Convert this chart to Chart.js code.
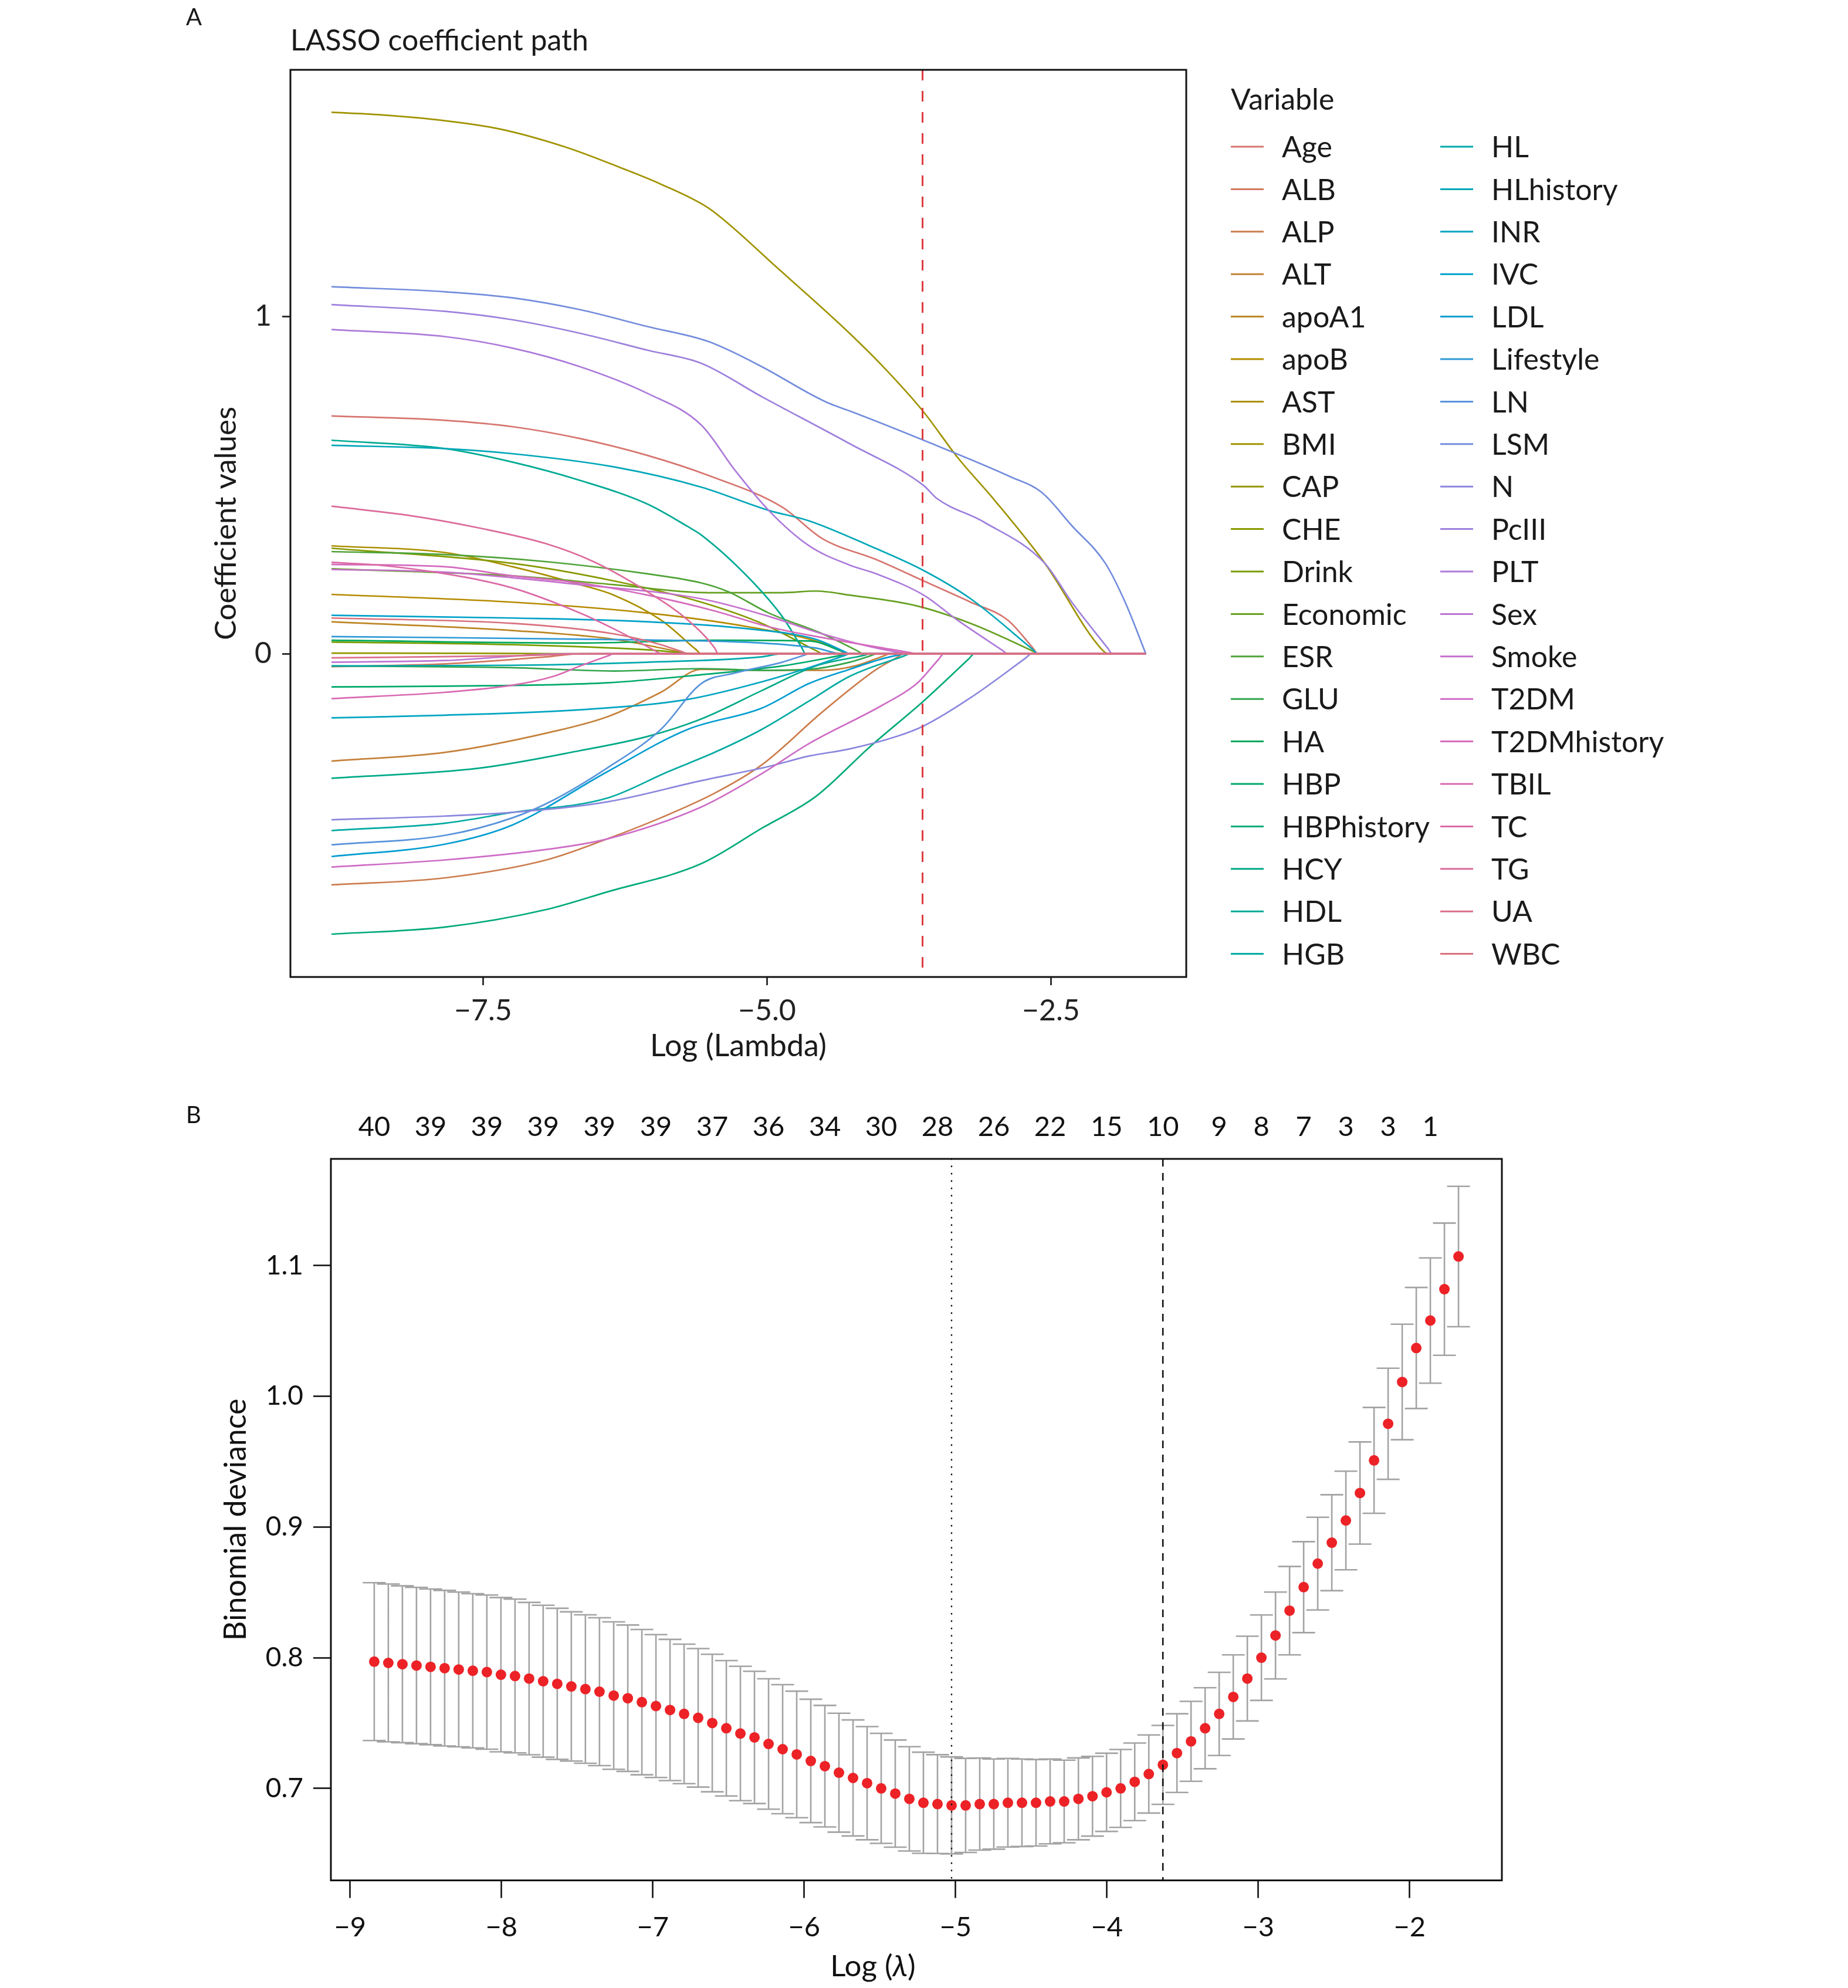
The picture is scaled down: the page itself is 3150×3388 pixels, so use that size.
<!DOCTYPE html>
<html lang="en">
<head>
<meta charset="UTF-8">
<title>LASSO coefficient path and cross-validation</title>
<script src="https://cdn.jsdelivr.net/npm/chart.js"></script>
<style>
  html, body { margin: 0; padding: 0; background: #ffffff; }
  body { width: 3150px; height: 3388px; position: relative; overflow: hidden; }
  #pathChart { position: absolute; left: 0; top: 0; }
  #cvChart { position: absolute; left: 0; top: 1820px; }
</style>
</head>
<body>
<canvas id="pathChart" width="3150" height="1820"></canvas>
<canvas id="cvChart" width="3150" height="1568"></canvas>
<script>
// ---------- Panel A: coefficient paths, [log(lambda), coefficient] ----------
const variables = ['Age', 'ALB', 'ALP', 'ALT', 'apoA1', 'apoB', 'AST', 'BMI', 'CAP', 'CHE',
  'Drink', 'Economic', 'ESR', 'GLU', 'HA', 'HBP', 'HBPhistory', 'HCY', 'HDL', 'HGB',
  'HL', 'HLhistory', 'INR', 'IVC', 'LDL', 'Lifestyle', 'LN', 'LSM', 'N', 'PcIII',
  'PLT', 'Sex', 'Smoke', 'T2DM', 'T2DMhistory', 'TBIL', 'TC', 'TG', 'UA', 'WBC'];

const pathAge = [[-8.835, 0.705], [-7.832, 0.692], [-7.239, 0.673], [-6.646, 0.638], [-6.053, 0.588], [-5.519, 0.529], [-4.867, 0.435], [-4.511, 0.341], [-4.036, 0.279], [-3.621, 0.216], [-3.206, 0.153], [-2.88, 0.10], [-2.66, 0.018], [-2.613, 0], [-1.664, 0]];
const pathALB = [[-8.835, -0.038], [-7.832, -0.03], [-6.942, -0.009], [-6.646, 0], [-1.664, 0]];
const pathALP = [[-8.835, -0.685], [-7.832, -0.664], [-6.942, -0.611], [-6.409, -0.549], [-5.934, -0.486], [-5.46, -0.413], [-5.045, -0.329], [-4.511, -0.172], [-4.036, -0.046], [-3.85, -0.01], [-3.799, 0], [-1.664, 0]];
const pathALT = [[-8.835, -0.318], [-7.832, -0.292], [-6.942, -0.235], [-6.409, -0.187], [-5.934, -0.114], [-5.578, -0.046], [-5.045, -0.049], [-4.511, -0.049], [-4.214, -0.035], [-3.97, -0.006], [-3.918, 0], [-1.664, 0]];
const pathApoA1 = [[-8.835, 0.095], [-7.239, 0.069], [-6.349, 0.043], [-5.75, 0.004], [-5.697, 0], [-1.664, 0]];
const pathApoB = [[-8.835, 0.176], [-7.239, 0.153], [-6.053, 0.121], [-5.163, 0.08], [-4.57, 0.038], [-4.32, 0.006], [-4.273, 0], [-1.664, 0]];
const pathAST = [[-8.835, 0.32], [-7.832, 0.30], [-7.239, 0.258], [-6.646, 0.205], [-6.349, 0.174], [-5.934, 0.10], [-5.63, 0.014], [-5.578, 0], [-1.664, 0]];
const pathBMI = [[-8.835, 1.605], [-8.425, 1.598], [-7.832, 1.58], [-7.358, 1.556], [-6.765, 1.501], [-6.29, 1.441], [-5.934, 1.392], [-5.519, 1.322], [-5.282, 1.258], [-4.926, 1.149], [-4.629, 1.06], [-4.273, 0.95], [-3.977, 0.851], [-3.621, 0.717], [-3.324, 0.583], [-2.998, 0.456], [-2.553, 0.268], [-2.049, 0.012], [-1.99, 0], [-1.664, 0]];
const pathCAP = [[-8.835, 0.002], [-7.239, 0.001], [-6.646, 0], [-1.664, 0]];
const pathCHE = [[-8.835, 0.313], [-7.239, 0.268], [-6.349, 0.216], [-5.578, 0.153], [-5.045, 0.09], [-4.56, 0.008], [-4.511, 0], [-1.664, 0]];
const pathDrink = [[-8.835, 0.035], [-7.239, 0.027], [-6.053, 0.012], [-5.578, 0], [-1.664, 0]];
const pathEconomic = [[-8.835, 0.252], [-7.239, 0.231], [-6.349, 0.205], [-5.519, 0.181], [-4.867, 0.181], [-4.57, 0.186], [-4.273, 0.174], [-3.68, 0.142], [-3.206, 0.09], [-2.66, 0.008], [-2.613, 0], [-1.664, 0]];
const pathESR = [[-8.835, 0.303], [-7.832, 0.294], [-6.942, 0.273], [-6.053, 0.237], [-5.578, 0.21], [-5.341, 0.184], [-4.985, 0.121], [-4.511, 0.059], [-4.2, 0.008], [-4.155, 0], [-1.664, 0]];
const pathGLU = [[-8.835, -0.036], [-7.239, -0.041], [-6.349, -0.051], [-5.578, -0.044], [-5.045, -0.049], [-4.629, -0.046], [-4.273, -0.025], [-4.08, -0.005], [-4.036, 0], [-1.664, 0]];
const pathHA = [[-8.835, 0.04], [-6.646, 0.032], [-5.46, 0.04], [-4.629, 0.038], [-4.32, 0.005], [-4.273, 0], [-1.664, 0]];
const pathHBP = [[-8.835, -0.098], [-7.832, -0.096], [-6.409, -0.086], [-5.578, -0.062], [-4.867, -0.036], [-4.32, -0.003], [-4.273, 0], [-1.664, 0]];
const pathHBPhistory = [[-8.835, -0.831], [-7.832, -0.81], [-6.942, -0.758], [-6.409, -0.706], [-5.578, -0.622], [-5.045, -0.517], [-4.57, -0.423], [-4.095, -0.276], [-3.621, -0.14], [-3.22, -0.014], [-3.176, 0], [-1.664, 0]];
const pathHCY = [[-8.835, -0.369], [-7.536, -0.339], [-6.646, -0.287], [-6.053, -0.245], [-5.578, -0.193], [-5.045, -0.109], [-4.57, -0.036], [-4.14, -0.004], [-4.095, 0], [-1.664, 0]];
const pathHDL = [[-8.835, 0.633], [-7.832, 0.608], [-7.239, 0.568], [-6.646, 0.514], [-6.053, 0.444], [-5.697, 0.377], [-5.578, 0.352], [-5.163, 0.226], [-4.867, 0.111], [-4.70, 0.022], [-4.659, 0], [-1.664, 0]];
const pathHGB = [[-8.835, -0.524], [-7.832, -0.502], [-7.239, -0.47], [-6.409, -0.428], [-5.875, -0.35], [-5.46, -0.292], [-5.045, -0.224], [-4.629, -0.14], [-4.273, -0.067], [-3.79, -0.006], [-3.74, 0], [-1.664, 0]];
const pathHL = [[-8.835, -0.036], [-7.239, -0.034], [-6.053, -0.025], [-5.045, -0.009], [-4.867, 0], [-1.664, 0]];
const pathHLhistory = [[-8.835, 0.618], [-7.832, 0.608], [-7.239, 0.593], [-6.349, 0.554], [-5.578, 0.494], [-4.985, 0.425], [-4.629, 0.394], [-4.095, 0.32], [-3.621, 0.247], [-3.206, 0.163], [-2.66, 0.013], [-2.613, 0], [-1.664, 0]];
const pathINR = [[-8.835, -0.19], [-7.832, -0.182], [-6.646, -0.166], [-5.697, -0.135], [-5.045, -0.083], [-4.629, -0.041], [-4.32, -0.0055], [-4.273, 0], [-1.664, 0]];
const pathIVC = [[-8.835, 0.114], [-7.239, 0.106], [-6.053, 0.095], [-5.163, 0.074], [-4.57, 0.043], [-4.32, 0.007], [-4.273, 0], [-1.664, 0]];
const pathLDL = [[-8.835, -0.601], [-7.832, -0.564], [-7.239, -0.507], [-6.409, -0.35], [-5.697, -0.224], [-5.045, -0.161], [-4.629, -0.088], [-4.273, -0.046], [-3.918, -0.009], [-3.74, 0], [-1.664, 0]];
const pathLifestyle = [[-8.835, 0.051], [-6.053, 0.041], [-5.045, 0.032], [-4.57, 0.017], [-4.333, 0], [-1.664, 0]];
const pathLN = [[-8.835, -0.566], [-7.832, -0.538], [-7.239, -0.486], [-6.883, -0.434], [-6.409, -0.339], [-5.934, -0.224], [-5.578, -0.088], [-5.282, -0.057], [-4.867, -0.025], [-4.67, -0.004], [-4.629, 0], [-1.664, 0]];
const pathLSM = [[-8.835, 1.088], [-7.832, 1.073], [-7.239, 1.055], [-6.646, 1.02], [-6.053, 0.97], [-5.519, 0.926], [-5.045, 0.851], [-4.629, 0.772], [-4.451, 0.742], [-4.273, 0.72], [-3.621, 0.633], [-2.85, 0.524], [-2.583, 0.479], [-2.316, 0.38], [-2.02, 0.268], [-1.842, 0.15], [-1.664, 0]];
const pathN = [[-8.835, -0.492], [-7.832, -0.481], [-7.239, -0.47], [-6.409, -0.439], [-5.578, -0.376], [-4.985, -0.334], [-4.629, -0.303], [-4.273, -0.282], [-3.858, -0.245], [-3.621, -0.214], [-3.206, -0.13], [-2.72, -0.012], [-2.672, 0], [-1.664, 0]];
const pathPcIII = [[-8.835, 1.035], [-7.832, 1.015], [-7.239, 0.99], [-6.646, 0.95], [-6.053, 0.90], [-5.578, 0.861], [-5.045, 0.762], [-4.273, 0.623], [-3.621, 0.499], [-3.502, 0.46], [-3.087, 0.39], [-2.553, 0.268], [-2.316, 0.153], [-2.0, 0.017], [-1.96, 0], [-1.664, 0]];
const pathPLT = [[-8.835, 0.961], [-7.832, 0.94], [-7.239, 0.906], [-6.646, 0.851], [-6.053, 0.772], [-5.578, 0.678], [-5.282, 0.544], [-4.985, 0.425], [-4.629, 0.32], [-4.273, 0.263], [-4.036, 0.237], [-3.621, 0.174], [-3.324, 0.10], [-2.93, 0.011], [-2.88, 0], [-1.664, 0]];
const pathSex = [[-8.835, -0.025], [-7.832, -0.02], [-6.765, 0], [-1.664, 0]];
const pathSmoke = [[-8.835, 0.25], [-7.832, 0.242], [-6.646, 0.205], [-5.578, 0.163], [-4.985, 0.111], [-4.511, 0.059], [-4.036, 0.017], [-3.68, 0], [-1.664, 0]];
const pathT2DM = [[-8.835, -0.632], [-7.832, -0.611], [-6.942, -0.58], [-6.409, -0.549], [-5.578, -0.454], [-5.045, -0.355], [-4.629, -0.266], [-3.977, -0.151], [-3.68, -0.088], [-3.49, -0.017], [-3.443, 0], [-1.664, 0]];
const pathT2DMhistory = [[-8.835, 0.265], [-7.832, 0.258], [-7.239, 0.231], [-6.646, 0.21], [-6.053, 0.174], [-5.46, 0.127], [-4.985, 0.08], [-4.511, 0.048], [-3.73, 0.003], [-3.68, 0], [-1.664, 0]];
const pathTBIL = [[-8.835, -0.133], [-7.832, -0.114], [-7.239, -0.093], [-6.883, -0.067], [-6.646, -0.036], [-6.40, -0.006], [-6.349, 0], [-1.664, 0]];
const pathTC = [[-8.835, 0.271], [-8.425, 0.263], [-7.832, 0.237], [-7.239, 0.195], [-6.646, 0.121], [-6.349, 0.074], [-5.98, 0.008], [-5.934, 0], [-1.664, 0]];
const pathTG = [[-8.835, 0.4375], [-8.129, 0.409], [-7.536, 0.373], [-6.942, 0.326], [-6.527, 0.273], [-6.053, 0.184], [-5.697, 0.10], [-5.46, 0.017], [-5.43, 0], [-1.664, 0]];
const pathUA = [[-8.835, -0.012], [-7.239, -0.006], [-6.527, 0], [-1.664, 0]];
const pathWBC = [[-8.835, 0.106], [-7.239, 0.09], [-6.349, 0.059], [-5.934, 0.027], [-5.74, 0.005], [-5.697, 0], [-1.664, 0]];

const coefPaths = [pathAge, pathALB, pathALP, pathALT, pathApoA1, pathApoB, pathAST, pathBMI, pathCAP, pathCHE,
  pathDrink, pathEconomic, pathESR, pathGLU, pathHA, pathHBP, pathHBPhistory, pathHCY, pathHDL, pathHGB,
  pathHL, pathHLhistory, pathINR, pathIVC, pathLDL, pathLifestyle, pathLN, pathLSM, pathN, pathPcIII,
  pathPLT, pathSex, pathSmoke, pathT2DM, pathT2DMhistory, pathTBIL, pathTC, pathTG, pathUA, pathWBC];

const xTicksA = [-7.5, -5.0, -2.5];
const yTicksA = [0, 1];

// ---------- Panel B: 10-fold CV binomial deviance ----------
const logLambda = [-8.840, -8.747, -8.654, -8.561, -8.468, -8.375, -8.282, -8.189, -8.096, -8.003,
  -7.910, -7.817, -7.724, -7.631, -7.538, -7.445, -7.352, -7.258, -7.165, -7.072,
  -6.979, -6.886, -6.793, -6.700, -6.607, -6.514, -6.421, -6.328, -6.235, -6.142,
  -6.049, -5.956, -5.863, -5.770, -5.677, -5.584, -5.491, -5.398, -5.305, -5.212,
  -5.119, -5.026, -4.933, -4.840, -4.747, -4.654, -4.561, -4.468, -4.375, -4.282,
  -4.188, -4.095, -4.002, -3.909, -3.816, -3.723, -3.630, -3.537, -3.444, -3.351,
  -3.258, -3.165, -3.072, -2.979, -2.886, -2.793, -2.700, -2.607, -2.514, -2.421,
  -2.328, -2.235, -2.142, -2.049, -1.956, -1.863, -1.770, -1.677];
const cvMean = [0.797, 0.796, 0.795, 0.794, 0.793, 0.792, 0.791, 0.790, 0.789, 0.787,
  0.786, 0.784, 0.782, 0.780, 0.778, 0.776, 0.774, 0.771, 0.769, 0.766,
  0.763, 0.760, 0.757, 0.754, 0.750, 0.746, 0.742, 0.739, 0.734, 0.730,
  0.726, 0.721, 0.717, 0.712, 0.708, 0.704, 0.700, 0.696, 0.692, 0.689,
  0.688, 0.687, 0.687, 0.688, 0.688, 0.689, 0.689, 0.689, 0.690, 0.690,
  0.692, 0.694, 0.697, 0.700, 0.705, 0.711, 0.718, 0.727, 0.736, 0.746,
  0.757, 0.770, 0.784, 0.800, 0.817, 0.836, 0.854, 0.872, 0.888, 0.905,
  0.926, 0.951, 0.979, 1.011, 1.037, 1.058, 1.082, 1.107];
const cvSE = [0.0604, 0.0604, 0.0600, 0.0598, 0.0596, 0.0595, 0.0592, 0.0590, 0.0590, 0.0590,
  0.0588, 0.0583, 0.0581, 0.0578, 0.0571, 0.0568, 0.0566, 0.0564, 0.0560, 0.0556,
  0.0547, 0.0540, 0.0534, 0.0530, 0.0526, 0.0518, 0.0514, 0.0506, 0.0499, 0.0494,
  0.0484, 0.0472, 0.0465, 0.0455, 0.0444, 0.0433, 0.0421, 0.0410, 0.0399, 0.0387,
  0.0378, 0.0371, 0.0360, 0.0352, 0.0345, 0.0339, 0.0335, 0.0331, 0.0324, 0.0316,
  0.0313, 0.0305, 0.0299, 0.0298, 0.0297, 0.0299, 0.0302, 0.0301, 0.0306, 0.0310,
  0.0318, 0.0322, 0.0324, 0.0327, 0.0332, 0.0338, 0.0348, 0.0355, 0.0367, 0.0377,
  0.0391, 0.0405, 0.0425, 0.0442, 0.0463, 0.0479, 0.0506, 0.0537];

const lambdaMinLog = -5.026;   // dotted line
const lambda1seLog = -3.630;   // dashed line (also the red line in panel A)

// number of non-zero coefficients shown on the top axis
const nzeroPos = [-8.840, -8.468, -8.096, -7.724, -7.352, -6.979, -6.607, -6.235, -5.863, -5.491,
  -5.119, -4.747, -4.375, -4.002, -3.630, -3.258, -2.979, -2.700, -2.421, -2.142, -1.863];
const nzeroLabels = ['40', '39', '39', '39', '39', '39', '37', '36', '34', '30',
  '28', '26', '22', '15', '10', '9', '8', '7', '3', '3', '1'];

const xTicksB = [-9, -8, -7, -6, -5, -4, -3, -2];
const yTicksB = [0.7, 0.8, 0.9, 1.0, 1.1];

// ---------- helpers ----------
const FONT = 'Lato, "Open Sans", sans-serif';
const minus = s => String(s).replace('-', '\u2212');

// hue palette in the style of ggplot2 (hcl), toned down to match the printed figure
function hueColour(i, n) {
  const h = (15 + 360 * i / n) * Math.PI / 180, c = 72, l = 60;
  const U = c * Math.cos(h), V = c * Math.sin(h);
  const Y = Math.pow((l + 16) / 116, 3);
  const Xn = 0.95047, Yn = 1.0, Zn = 1.08883;
  const un = 4 * Xn / (Xn + 15 * Yn + 3 * Zn), vn = 9 * Yn / (Xn + 15 * Yn + 3 * Zn);
  const u = U / (13 * l) + un, v = V / (13 * l) + vn;
  const X = Y * 9 * u / (4 * v);
  const Z = Y * (12 - 3 * u - 20 * v) / (4 * v);
  const rgb = [3.2404542 * X - 1.5371385 * Y - 0.4985314 * Z,
    -0.9692660 * X + 1.8760108 * Y + 0.0415560 * Z,
    0.0556434 * X - 0.2040259 * Y + 1.0572252 * Z];
  return '#' + rgb.map(k => {
    k = k <= 0.0031308 ? 12.92 * k : 1.055 * Math.pow(k, 1 / 2.4) - 0.055;
    return Math.round(Math.min(1, Math.max(0, k)) * 255).toString(16).padStart(2, '0');
  }).join('');
}
const colours = variables.map((_, i) => hueColour(i, variables.length));

function drawBox(chart, width) {
  const a = chart.chartArea, ctx = chart.ctx;
  ctx.save();
  ctx.strokeStyle = '#111';
  ctx.lineWidth = width;
  ctx.strokeRect(a.left, a.top, a.right - a.left, a.bottom - a.top);
  ctx.restore();
}

function vline(chart, value, colour, width, dash, cap) {
  const a = chart.chartArea, ctx = chart.ctx;
  const x = chart.scales.x.getPixelForValue(value);
  ctx.save();
  ctx.strokeStyle = colour;
  ctx.lineWidth = width;
  ctx.lineCap = cap || 'butt';
  ctx.setLineDash(dash);
  ctx.beginPath();
  ctx.moveTo(x, a.top);
  ctx.lineTo(x, a.bottom);
  ctx.stroke();
  ctx.restore();
}

function rotatedText(ctx, text, x, y, font) {
  ctx.save();
  ctx.translate(x, y);
  ctx.rotate(-Math.PI / 2);
  ctx.font = font;
  ctx.textAlign = 'center';
  ctx.textBaseline = 'middle';
  ctx.fillText(text, 0, 0);
  ctx.restore();
}

// ---------- Panel A chart ----------
const pathDecor = {
  id: 'pathDecor',
  afterDatasetsDraw(chart) {
    vline(chart, lambda1seLog, '#dc3a3f', 3, [18, 18]);
  },
  afterDraw(chart) {
    const ctx = chart.ctx, a = chart.chartArea;
    drawBox(chart, 3);
    ctx.save();
    ctx.fillStyle = '#1a1a1a';
    ctx.textAlign = 'left';
    ctx.textBaseline = 'alphabetic';
    ctx.font = '40px ' + FONT;
    ctx.fillText('A', 317, 43);
    ctx.font = '50px ' + FONT;
    ctx.fillText('LASSO coefficient path', a.left, 86);
    ctx.textAlign = 'center';
    ctx.font = '52px ' + FONT;
    ctx.fillText('Log (Lambda)', (a.left + a.right) / 2, 1800);
    rotatedText(ctx, 'Coefficient values', 386, (a.top + a.bottom) / 2, '51px ' + FONT);

    // legend, two columns of twenty
    ctx.textAlign = 'left';
    ctx.textBaseline = 'middle';
    ctx.font = '50px ' + FONT;
    ctx.fillText('Variable', 2098, 171);
    variables.forEach((name, i) => {
      const col = Math.floor(i / 20), row = i % 20;
      const y = 250 + row * 72.4;
      const x0 = col === 0 ? 2098 : 2455;
      ctx.strokeStyle = colours[i];
      ctx.lineWidth = 3;
      ctx.beginPath();
      ctx.moveTo(x0, y);
      ctx.lineTo(x0 + 56, y);
      ctx.stroke();
      ctx.fillStyle = '#1a1a1a';
      ctx.fillText(name, x0 + 87, y + 2);
    });
    ctx.restore();
  }
};

new Chart(document.getElementById('pathChart'), {
  type: 'scatter',
  data: {
    datasets: variables.map((name, i) => ({
      label: name,
      data: coefPaths[i].map(p => ({ x: p[0], y: p[1] })),
      showLine: true,
      borderColor: colours[i],
      backgroundColor: colours[i],
      borderWidth: 2.7,
      pointRadius: 0,
      cubicInterpolationMode: 'monotone',
      order: variables.length - 1 - i
    }))
  },
  options: {
    responsive: false,
    animation: false,
    devicePixelRatio: 1,
    layout: { padding: { left: 0, top: 119, right: 1128, bottom: 0 } },
    plugins: { legend: { display: false }, tooltip: { enabled: false } },
    scales: {
      x: {
        type: 'linear', min: -9.197, max: -1.308,
        afterFit: s => { s.height = 155; },
        afterBuildTicks: s => { s.ticks = xTicksA.map(v => ({ value: v })); },
        ticks: { callback: v => minus(v.toFixed(1)), font: { family: FONT, size: 50 }, color: '#222', padding: 14, maxRotation: 0, autoSkip: false },
        grid: { drawOnChartArea: false, tickLength: 14, tickWidth: 3, tickColor: '#333' },
        border: { display: false }
      },
      y: {
        type: 'linear', min: -0.958, max: 1.731,
        afterFit: s => { s.width = 495; },
        afterBuildTicks: s => { s.ticks = yTicksA.map(v => ({ value: v })); },
        ticks: { callback: v => String(v), font: { family: FONT, size: 50 }, color: '#222', padding: 18, autoSkip: false },
        grid: { drawOnChartArea: false, tickLength: 14, tickWidth: 3, tickColor: '#333' },
        border: { display: false }
      }
    }
  },
  plugins: [pathDecor]
});

// ---------- Panel B chart ----------
const cvDecor = {
  id: 'cvDecor',
  beforeDatasetsDraw(chart) {
    const ctx = chart.ctx, xs = chart.scales.x, ys = chart.scales.y;
    ctx.save();
    ctx.strokeStyle = '#a3a3a3';
    ctx.lineWidth = 2.6;
    ctx.beginPath();
    logLambda.forEach((lv, i) => {
      const x = xs.getPixelForValue(lv);
      const yUp = ys.getPixelForValue(cvMean[i] + cvSE[i]);
      const yLo = ys.getPixelForValue(cvMean[i] - cvSE[i]);
      ctx.moveTo(x, yUp); ctx.lineTo(x, yLo);
      ctx.moveTo(x - 19.5, yUp); ctx.lineTo(x + 19.5, yUp);
      ctx.moveTo(x - 19.5, yLo); ctx.lineTo(x + 19.5, yLo);
    });
    ctx.stroke();
    ctx.restore();
  },
  afterDatasetsDraw(chart) {
    vline(chart, lambdaMinLog, '#111', 2.6, [0.5, 12], 'round');
    vline(chart, lambda1seLog, '#111', 2.6, [13, 11]);
  },
  afterDraw(chart) {
    const ctx = chart.ctx, a = chart.chartArea, xs = chart.scales.x;
    drawBox(chart, 3);
    ctx.save();
    ctx.fillStyle = '#111';
    ctx.textAlign = 'left';
    ctx.textBaseline = 'alphabetic';
    ctx.font = '40px ' + FONT;
    ctx.fillText('B', 317, 94);

    ctx.textAlign = 'center';
    ctx.textBaseline = 'middle';
    ctx.font = '47px ' + FONT;
    nzeroPos.forEach((v, i) => ctx.fillText(nzeroLabels[i], xs.getPixelForValue(v), 101));

    rotatedText(ctx, 'Binomial deviance', 402, (a.top + a.bottom) / 2, '52px ' + FONT);

    // x title with italic lambda
    const normal = '51px ' + FONT, italic = 'italic 51px ' + FONT;
    ctx.font = normal; const w1 = ctx.measureText('Log (').width; const w3 = ctx.measureText(')').width;
    ctx.font = italic; const w2 = ctx.measureText('\u03bb').width;
    let x = 1488 - (w1 + w2 + w3) / 2;
    ctx.textAlign = 'left';
    ctx.textBaseline = 'alphabetic';
    ctx.font = normal; ctx.fillText('Log (', x, 1548); x += w1;
    ctx.font = italic; ctx.fillText('\u03bb', x, 1548); x += w2;
    ctx.font = normal; ctx.fillText(')', x, 1548);
    ctx.restore();
  }
};

new Chart(document.getElementById('cvChart'), {
  type: 'scatter',
  data: {
    datasets: [{
      label: 'Mean CV deviance',
      data: logLambda.map((v, i) => ({ x: v, y: cvMean[i] })),
      pointRadius: 9,
      pointBackgroundColor: '#ec2227',
      pointBorderWidth: 0,
      showLine: false
    }]
  },
  options: {
    responsive: false,
    animation: false,
    devicePixelRatio: 1,
    layout: { padding: { left: 0, top: 155, right: 590, bottom: 0 } },
    plugins: { legend: { display: false }, tooltip: { enabled: false } },
    scales: {
      x: {
        type: 'linear', min: -9.1265, max: -1.3905,
        afterFit: s => { s.height = 183.4; },
        afterBuildTicks: s => { s.ticks = xTicksB.map(v => ({ value: v })); },
        ticks: { callback: v => minus(v), font: { family: FONT, size: 47 }, color: '#111', padding: 22, maxRotation: 0, autoSkip: false },
        grid: { drawOnChartArea: false, tickLength: 30, tickWidth: 2.6, tickColor: '#111' },
        border: { display: false }
      },
      y: {
        type: 'linear', min: 0.6296, max: 1.1817,
        afterFit: s => { s.width = 564; },
        afterBuildTicks: s => { s.ticks = yTicksB.map(v => ({ value: v })); },
        ticks: { callback: v => v.toFixed(1), font: { family: FONT, size: 46 }, color: '#111', padding: 17, autoSkip: false },
        grid: { drawOnChartArea: false, tickLength: 30, tickWidth: 2.6, tickColor: '#111' },
        border: { display: false }
      }
    }
  },
  plugins: [cvDecor]
});
</script>
</body>
</html>
